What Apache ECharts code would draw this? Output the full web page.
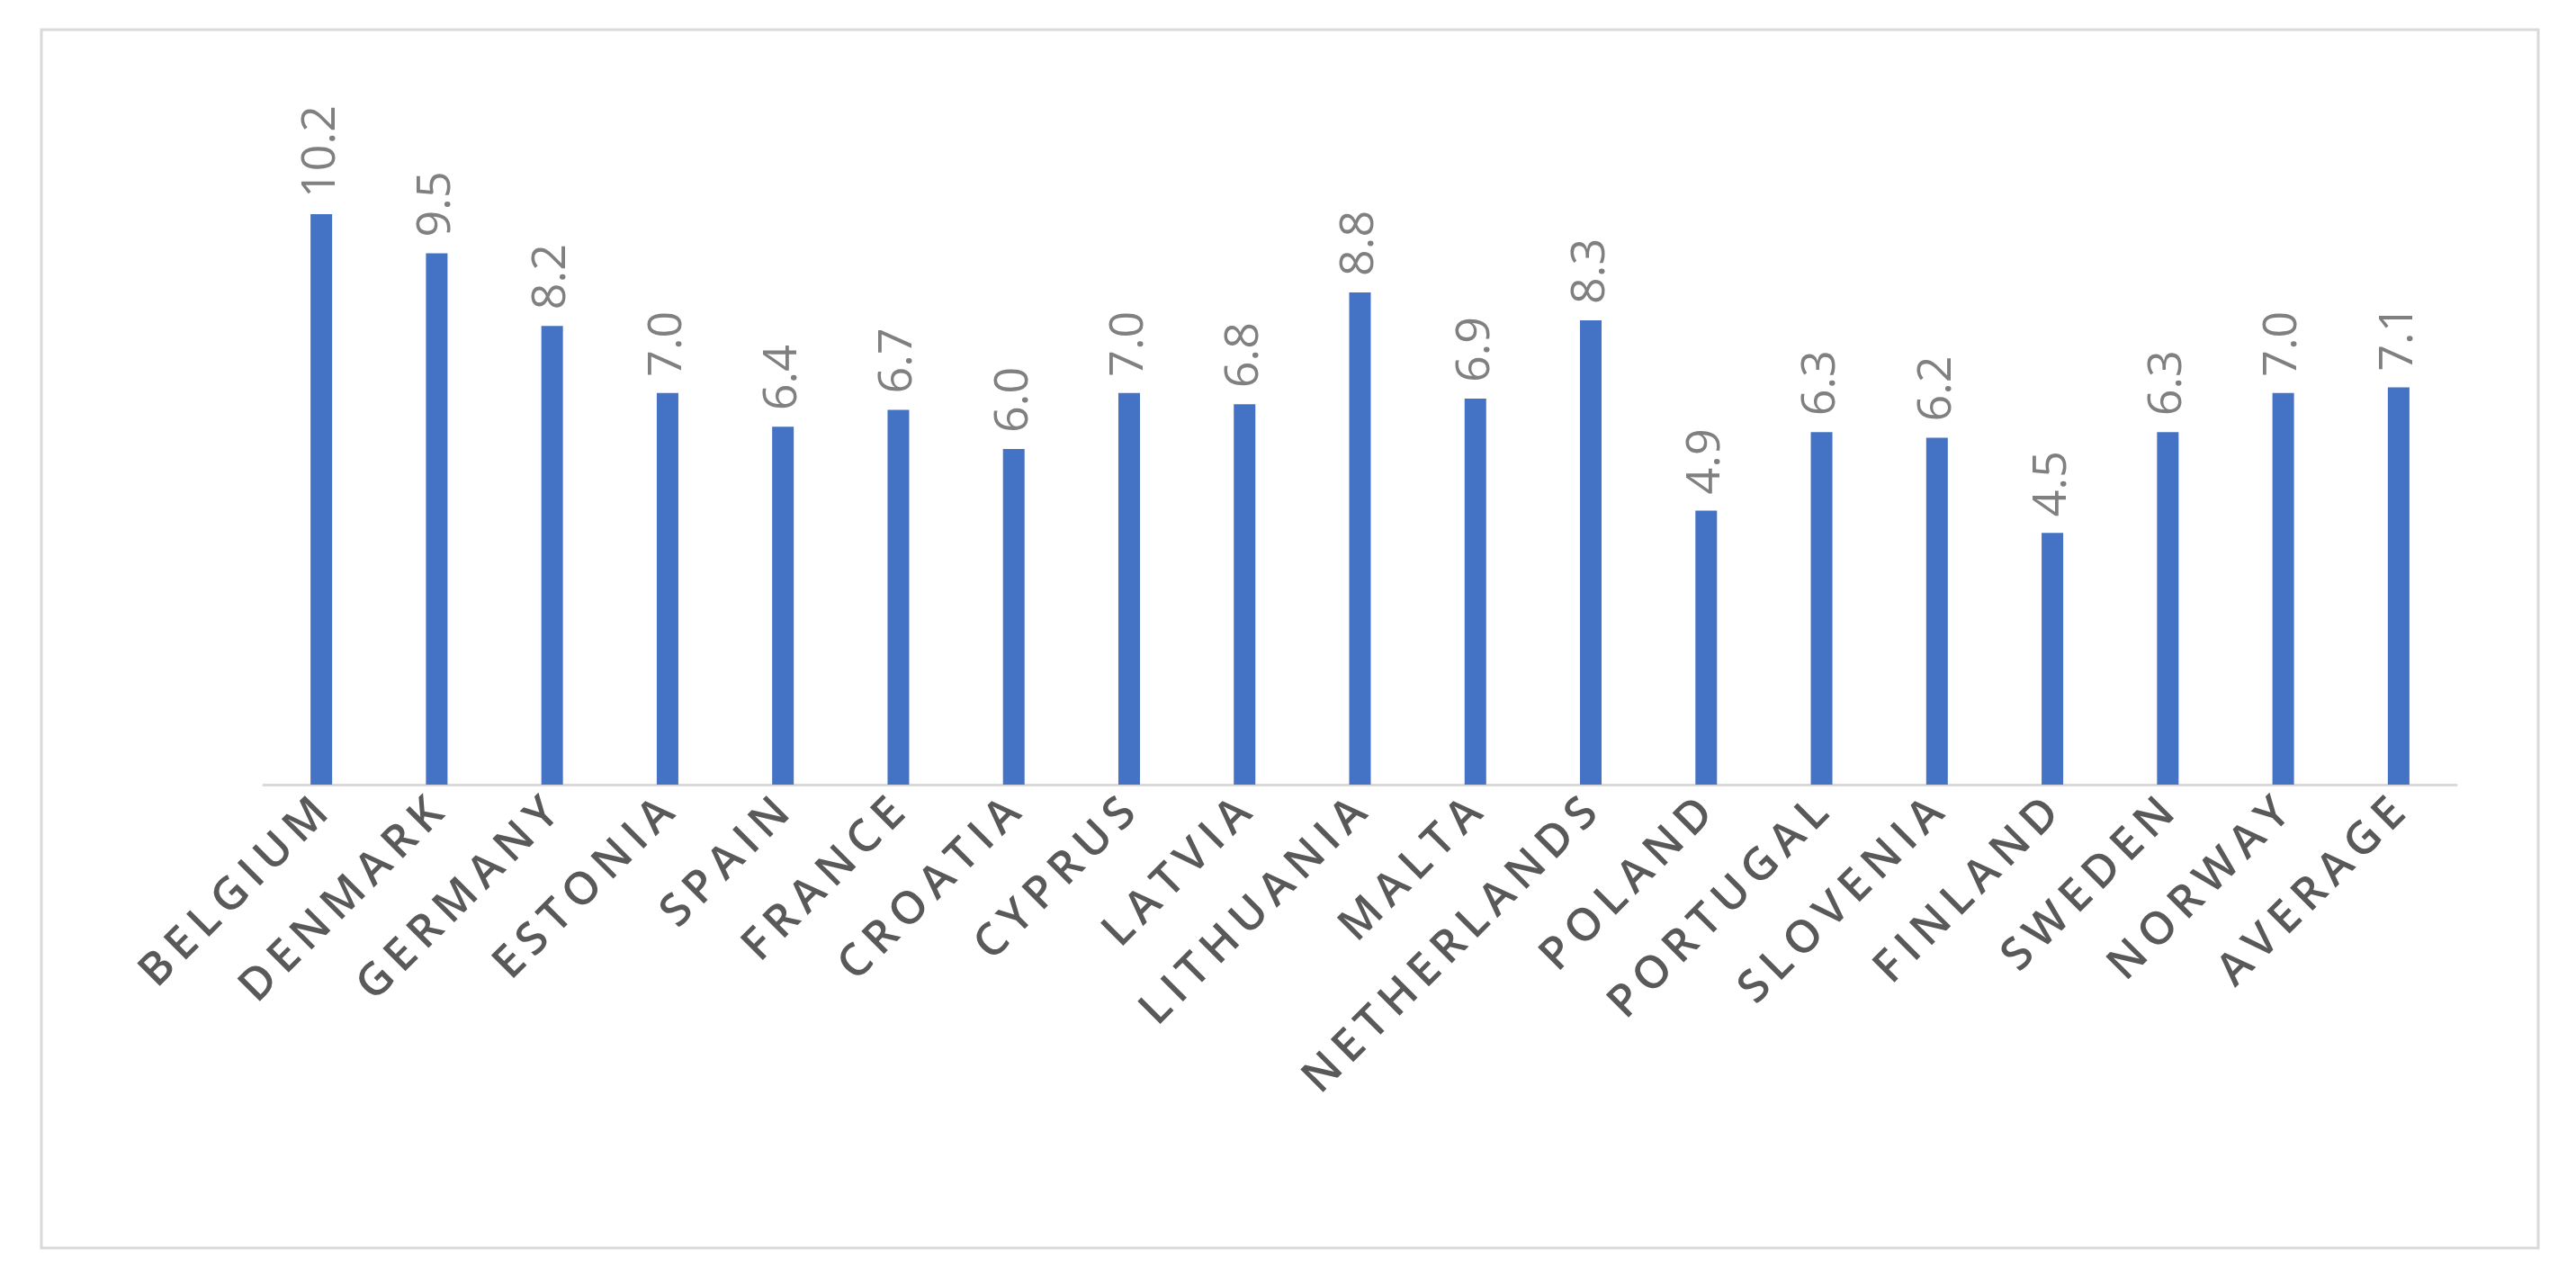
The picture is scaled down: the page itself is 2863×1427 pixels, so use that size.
<!DOCTYPE html>
<html>
<head>
<meta charset="utf-8">
<script src="https://cdn.jsdelivr.net/npm/echarts@6/dist/echarts.min.js"></script>
<style>
  html, body { margin: 0; padding: 0; background: #ffffff; }
  #chart { width: 2863px; height: 1427px; }
</style>
</head>
<body>
<div id="chart"></div>
<script>
// Datos del gráfico
const countries = ["BELGIUM", "DENMARK", "GERMANY", "ESTONIA", "SPAIN", "FRANCE", "CROATIA",
  "CYPRUS", "LATVIA", "LITHUANIA", "MALTA", "NETHERLANDS", "POLAND", "PORTUGAL",
  "SLOVENIA", "FINLAND", "SWEDEN", "NORWAY", "AVERAGE"];
const values = [10.2, 9.5, 8.2, 7.0, 6.4, 6.7, 6.0, 7.0, 6.8, 8.8, 6.9, 8.3, 4.9, 6.3, 6.2, 4.5, 6.3, 7.0, 7.1];

// Espaciado de letras como en el original
const spaced = s => s.split("").join("\u2006");

const chart = echarts.init(document.getElementById("chart"));

chart.setOption({
  backgroundColor: "#ffffff",
  animation: false,
  graphic: [{
    type: "rect",
    shape: { x: 46, y: 33, width: 2775, height: 1354 },
    style: { fill: "none", stroke: "#d9d9d9", lineWidth: 3 }
  }],
  grid: { left: 293, right: 133, top: 126, bottom: 555 },
  xAxis: {
    type: "category",
    data: countries,
    axisLine: { lineStyle: { color: "#d9d9d9", width: 3 } },
    axisTick: { show: false },
    axisLabel: {
      interval: 0,
      rotate: 45,
      margin: 24,
      fontFamily: "Open Sans",
      fontWeight: 600,
      fontSize: 50,
      color: "#595959",
      formatter: v => spaced(v)
    }
  },
  yAxis: {
    type: "value",
    min: 0,
    max: 12,
    show: false
  },
  series: [{
    type: "bar",
    data: values,
    barWidth: 24,
    itemStyle: { color: "#4472c4" },
    label: {
      show: true,
      position: "top",
      rotate: 90,
      align: "left",
      verticalAlign: "middle",
      distance: 18,
      fontFamily: "Open Sans",
      fontSize: 52,
      color: "#808080",
      formatter: p => p.value.toFixed(1)
    }
  }]
});
</script>
</body>
</html>
